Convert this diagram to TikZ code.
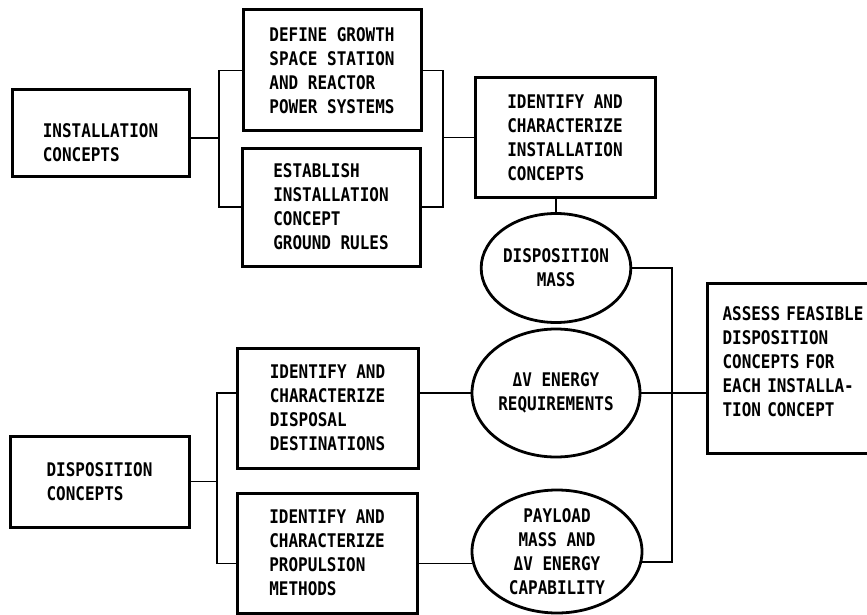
\documentclass[tikz,border=0pt]{standalone}
\usepackage{fontspec}
\setmainfont[FakeStretch=0.85]{DejaVu Sans Mono}
\usetikzlibrary{shapes.geometric}
\tikzset{
  txt/.style={font=\bfseries\fontsize{18.8}{24}\selectfont, inner sep=0pt},
  box/.style={txt, draw, line width=3pt, rectangle, align=left},
  oval/.style={txt, draw, line width=2.8pt, ellipse, align=center},
  conn/.style={line width=1.6pt},
}
\begin{document}
\begin{tikzpicture}[x=1pt,y=-1pt]
\clip (0,0) rectangle (867,615);
\fill[white] (0,0) rectangle (867,615);
% boxes
\node[box, minimum width=177, minimum height=86] (inst) at (100.5,133) {\mbox{}\\[9.7pt]INSTALLATION\\CONCEPTS};
\node[box, minimum width=178, minimum height=121] (define) at (332,70.5) {DEFINE GROWTH\\SPACE STATION\\AND REACTOR\\POWER SYSTEMS};
\node[box, minimum width=178, minimum height=118] (establish) at (331,207) {ESTABLISH\\INSTALLATION\\CONCEPT\\GROUND RULES};
\node[box, minimum width=180, minimum height=119] (identI) at (565,137.5) {IDENTIFY AND\\CHARACTERIZE\\INSTALLATION\\CONCEPTS};
\node[oval, minimum width=146, minimum height=109] (dmass) at (556,268) {DISPOSITION\\MASS};
\node[oval, minimum width=168, minimum height=128] (dv) at (556,393) {ΔV ENERGY\\REQUIREMENTS};
\node[oval, minimum width=170, minimum height=123] (payload) at (557,551.5) {PAYLOAD\\MASS AND\\ΔV ENERGY\\CAPABILITY};
\node[box, anchor=north west, minimum width=190, minimum height=170, text width=160, inner xsep=12pt, inner ysep=0pt] (assess) at (706,282) {ASSESS FEASIBLE\\DISPOSITION\\CONCEPTS FOR\\EACH INSTALLA-\\TION CONCEPT\\[-10pt]\mbox{}};
\node[box, minimum width=179, minimum height=91] (disp) at (99.5,481.5) {DISPOSITION\\CONCEPTS};
\node[box, minimum width=181, minimum height=120] (disposal) at (327.5,408) {IDENTIFY AND\\CHARACTERIZE\\DISPOSAL\\DESTINATIONS};
\node[box, minimum width=180, minimum height=120] (propulsion) at (327,553) {IDENTIFY AND\\CHARACTERIZE\\PROPULSION\\METHODS};
% connector helper points
\coordinate (bl) at (219,138);
\coordinate (br) at (443,137.5);
\coordinate (bl2) at (217,482);
\coordinate (vx) at (672,300);
% top-left bracket
\draw[conn] (inst.east |- bl) -- (bl);
\draw[conn] (define.west) -| (bl) |- (establish.west);
% top-right bracket
\draw[conn] (define.east) -| (br) |- (establish.east);
\draw[conn] (br) -- (identI.west);
% to disposition mass
\draw[conn] (dmass.north |- identI.south) -- (dmass.north);
% bottom-left bracket
\draw[conn] (disp.east) -- (disp.east -| bl2);
\draw[conn] (disposal.east |- dv.west) -- (dv.west);
\draw[conn] (payload.-172.2) -- (propulsion.east |- payload.-172.2);
\draw[conn] (disposal.west |- dv.west) -| (bl2) |- (propulsion.west |- payload.-172.2);
% right collector
\draw[conn] (dmass.east) -- (dmass.east -| vx) -- (vx |- payload.-7.8) -- (payload.-7.8);
\draw[conn] (dv.east) -- (assess.west |- dv.east);
\end{tikzpicture}
\end{document}
